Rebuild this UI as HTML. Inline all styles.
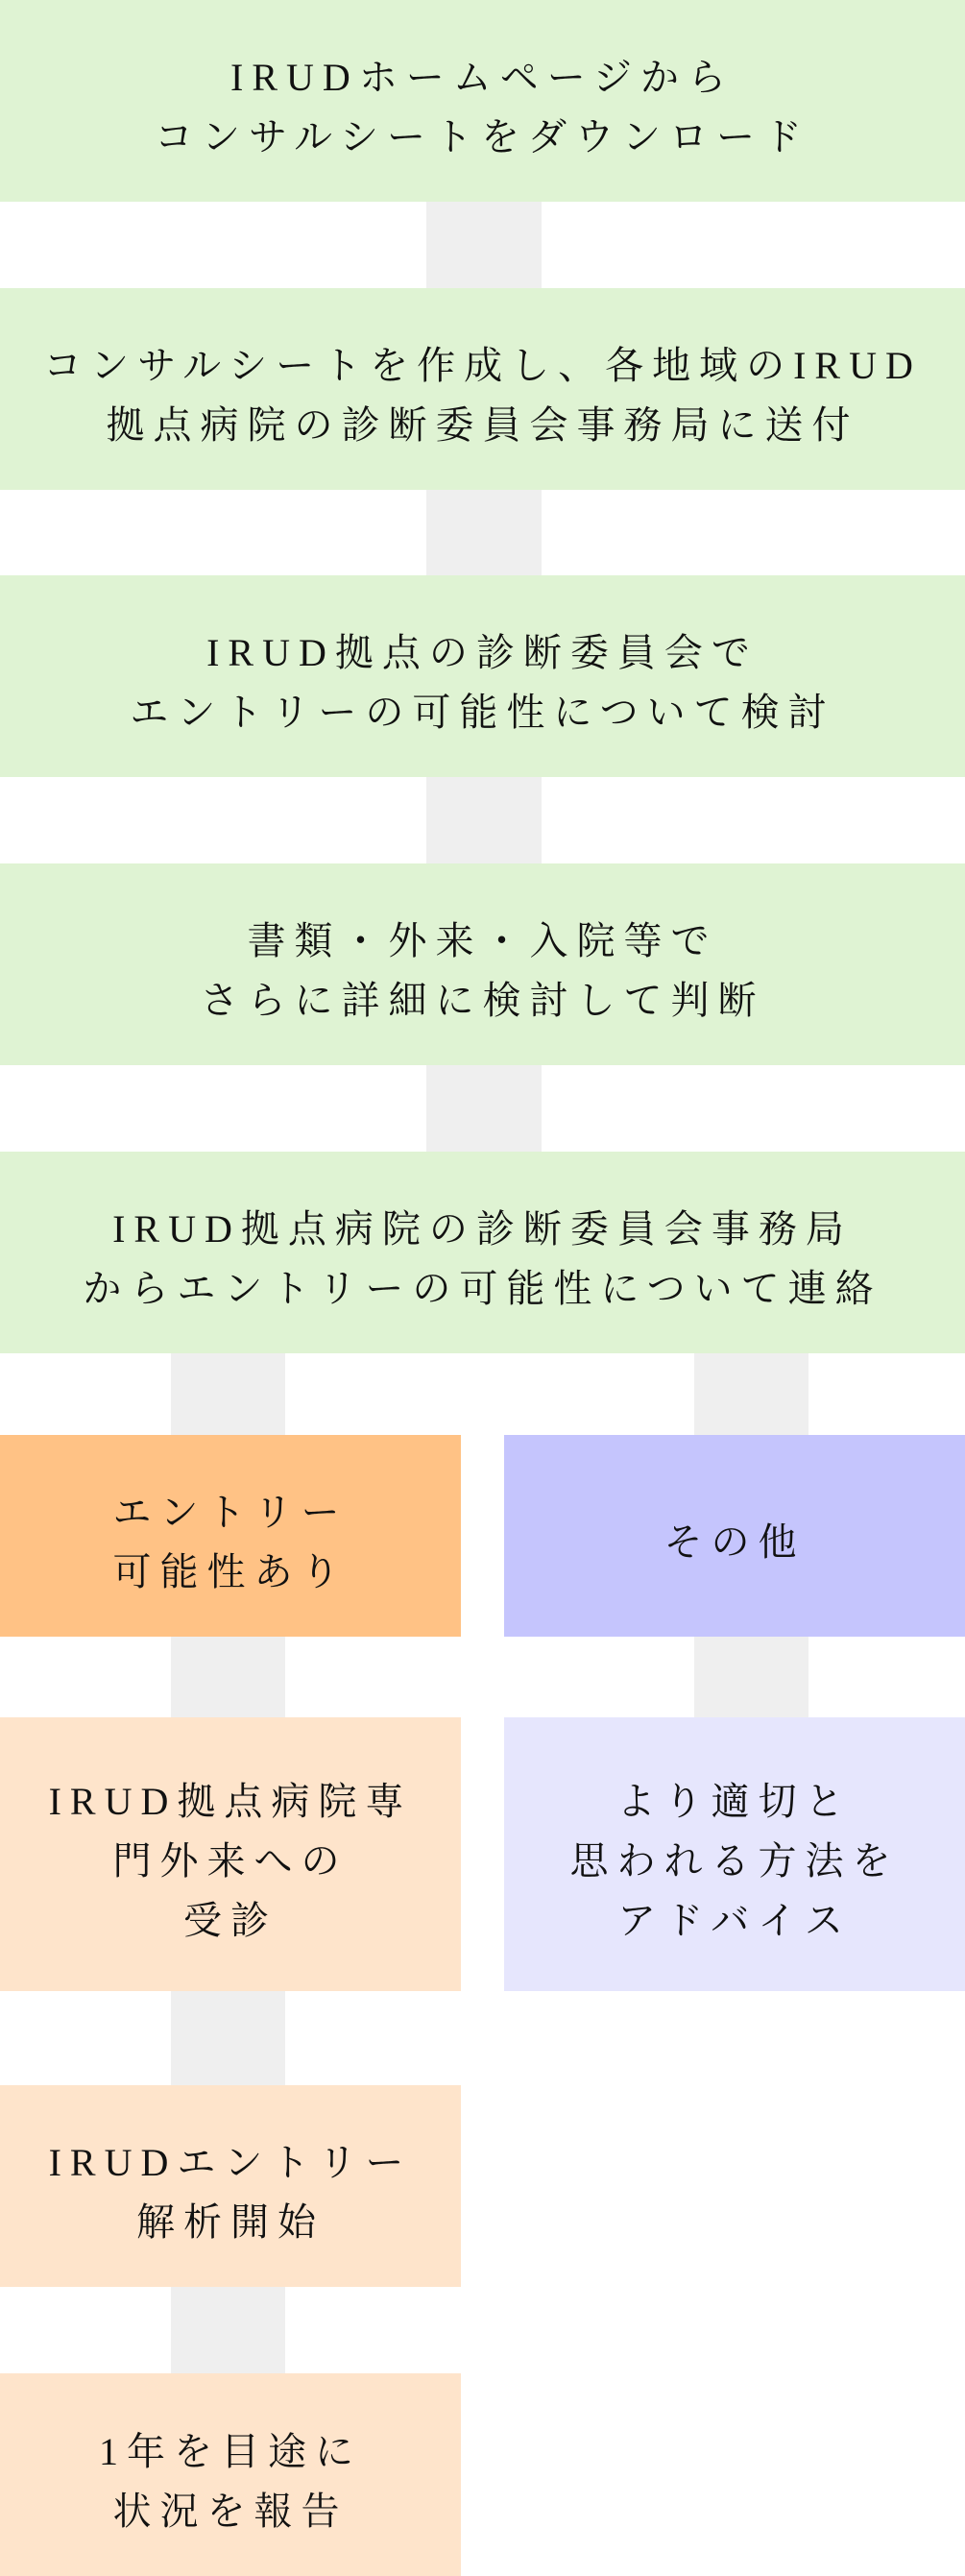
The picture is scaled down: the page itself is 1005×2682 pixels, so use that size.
<!DOCTYPE html>
<html><head><meta charset="utf-8"><style>
html,body{margin:0;padding:0;background:#fff;}
body{width:1005px;height:2682px;position:relative;overflow:hidden;font-family:"Liberation Serif","Noto Serif CJK SC",serif;color:#111;}
.b{position:absolute;display:flex;align-items:center;justify-content:center;text-align:center;font-size:40px;letter-spacing:9px;line-height:62px;box-sizing:border-box;padding-top:14px;}
.c{position:absolute;background:#efefef;}
.g{background:#dff3d3;left:0;width:1005px;}
.o{background:#ffc285;left:0;width:480px;}
.p{background:#c5c5fd;left:525px;width:480px;}
.lo{background:#fee4cb;left:0;width:480px;}
.lp{background:#e6e6fd;left:525px;width:480px;}
</style></head><body>
<div class="c" style="left:444px;width:120px;top:208px;height:94px"></div>
<div class="c" style="left:444px;width:120px;top:508px;height:94px"></div>
<div class="c" style="left:444px;width:120px;top:807px;height:94px"></div>
<div class="c" style="left:444px;width:120px;top:1107px;height:94px"></div>
<div class="c" style="left:178px;width:119px;top:1406px;height:1100px"></div>
<div class="c" style="left:723px;width:119px;top:1406px;height:400px"></div>

<div class="b g" style="top:0;height:210px">IRUDホームページから<br>コンサルシートをダウンロード</div>
<div class="b g" style="top:300px;height:210px">コンサルシートを作成し、各地域のIRUD<br>拠点病院の診断委員会事務局に送付</div>
<div class="b g" style="top:599px;height:210px">IRUD拠点の診断委員会で<br>エントリーの可能性について検討</div>
<div class="b g" style="top:899px;height:210px">書類・外来・入院等で<br>さらに詳細に検討して判断</div>
<div class="b g" style="top:1199px;height:210px">IRUD拠点病院の診断委員会事務局<br>からエントリーの可能性について連絡</div>
<div class="b o" style="top:1494px;height:210px">エントリー<br>可能性あり</div>
<div class="b p" style="top:1494px;height:210px">その他</div>
<div class="b lo" style="top:1788px;height:285px">IRUD拠点病院専<br>門外来への<br>受診</div>
<div class="b lp" style="top:1788px;height:285px">より適切と<br>思われる方法を<br>アドバイス</div>
<div class="b lo" style="top:2171px;height:210px">IRUDエントリー<br>解析開始</div>
<div class="b lo" style="top:2471px;height:211px">1年を目途に<br>状況を報告</div>
</body></html>
